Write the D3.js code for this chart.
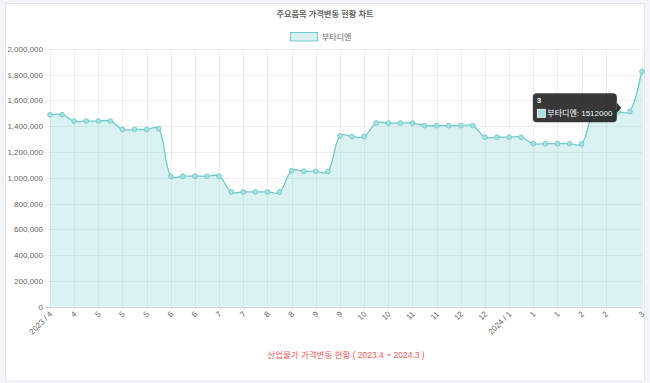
<!DOCTYPE html>
<html><head><meta charset="utf-8">
<script src="https://cdn.jsdelivr.net/npm/d3@7"></script>
<style>
html,body{margin:0;padding:0;background:#f3f5f8;}
svg{display:block;}
text{font-family:"Liberation Sans",Arial,"Noto Sans CJK KR",sans-serif;}
</style></head>
<body>
<svg id="chart" width="650" height="383"></svg>
<script>
const chartTitle = "주요품목 가격변동 현황 차트";
const seriesName = "부타디엔";
const axisTitle = "산업물가 가격변동 현황 ( 2023.4 ~ 2024.3 )";
const labels = ["2023 / 4","4","4","4","5","5","5","5","5","6","6","6","6","7","7","7","7","8","8","8","8","9","9","9","9","10","10","10","10","11","11","11","11","12","12","12","12","12","2024 / 1","1","1","1","1","2","2","2","2","3","3","3"];
const values = [1490000,1490000,1440000,1440000,1440000,1440000,1375000,1375000,1375000,1382000,
  1010000,1012000,1012000,1012000,1012000,890000,890000,890000,890000,888000,
  1055000,1050000,1050000,1048000,1325000,1320000,1320000,1425000,1425000,1425000,
  1425000,1405000,1405000,1405000,1405000,1405000,1315000,1315000,1315000,1315000,
  1265000,1265000,1265000,1265000,1262000,1500000,1510000,1512000,1515000,1825000];
const yTicks = [0,200000,400000,600000,800000,1000000,1200000,1400000,1600000,1800000,2000000];
const tooltipIndex = 47;

const svg = d3.select("#chart");
const L = 50, R = 642, T = 49, B = 306.5;
// panel
svg.append("rect").attr("x",5.5).attr("y",3.5).attr("width",639).attr("height",377.5)
  .attr("fill","#fff").attr("stroke","#e4e8ed");

const x = d3.scalePoint().domain(d3.range(values.length)).range([L,R]);
const y = d3.scaleLinear().domain([0,2000000]).range([B,T]);

// title
svg.append("text").attr("x",325).attr("y",17).attr("text-anchor","middle")
  .attr("font-size","8.2px").attr("font-weight","bold").attr("fill","#666").text(chartTitle);
// legend
svg.append("rect").attr("x",290.5).attr("y",32.5).attr("width",27).attr("height",8.5)
  .attr("fill","#d9f1f1").attr("stroke","#72cccc").attr("stroke-width",1);
svg.append("text").attr("x",322).attr("y",40).attr("font-size","8px").attr("fill","#666").text(seriesName);

// horizontal grid + y labels
const fmt = d3.format(",");
yTicks.forEach(v=>{
  const yy = Math.round(y(v))+0.5;
  svg.append("line").attr("x1",45).attr("x2",R).attr("y1",yy).attr("y2",yy)
    .attr("stroke", v===0 ? "rgba(0,0,0,0.22)" : "rgba(0,0,0,0.08)").attr("stroke-width",0.8);
  svg.append("text").attr("x",43).attr("y",yy).attr("dy","0.35em").attr("text-anchor","end")
    .attr("font-size","8px").attr("fill","#666").text(fmt(v));
});

// x ticks (Chart.js auto-skip: every 2nd, always last)
const skip = 2, N = values.length;
const shown = d3.range(N).filter(i => (i===N-1) || (i%skip===0 && i+skip < N));
shown.forEach(i=>{
  const xx = Math.round(x(i))+0.5;
  svg.append("line").attr("x1",xx).attr("x2",xx).attr("y1",T).attr("y2",B+4)
    .attr("stroke","rgba(0,0,0,0.08)").attr("stroke-width",0.8);
  svg.append("text").attr("transform",`translate(${x(i)+1},${B+6}) rotate(-45)`)
    .attr("text-anchor","end").attr("dy","0.35em").attr("font-size","8px").attr("fill","#666").text(labels[i]);
});

// spline (Chart.js style tension 0.4)
const pts = values.map((v,i)=>({x:x(i), y:y(v)}));
const t = 0.4;
pts.forEach((p,i)=>{
  const prev = pts[Math.max(0,i-1)], next = pts[Math.min(N-1,i+1)];
  const d01 = Math.hypot(p.x-prev.x,p.y-prev.y), d12 = Math.hypot(next.x-p.x,next.y-p.y);
  let s01 = d01/(d01+d12), s12 = d12/(d01+d12);
  if (isNaN(s01)) s01=0; if (isNaN(s12)) s12=0;
  const fa=t*s01, fb=t*s12;
  p.cpPrev = {x:p.x-fa*(next.x-prev.x), y:Math.min(B,Math.max(T,p.y-fa*(next.y-prev.y)))};
  p.cpNext = {x:p.x+fb*(next.x-prev.x), y:Math.min(B,Math.max(T,p.y+fb*(next.y-prev.y)))};
});
let line = `M${pts[0].x},${pts[0].y}`;
for (let i=1;i<N;i++){
  const a=pts[i-1], b=pts[i];
  line += `C${a.cpNext.x},${a.cpNext.y},${b.cpPrev.x},${b.cpPrev.y},${b.x},${b.y}`;
}
const area = line + `L${pts[N-1].x},${B}L${pts[0].x},${B}Z`;
svg.append("path").attr("d",area).attr("fill","rgba(75,192,192,0.2)");
svg.append("path").attr("d",line).attr("fill","none").attr("stroke","#6fcbcb").attr("stroke-width",1.3);
svg.selectAll("circle.pt").data(values).enter().append("circle")
  .attr("cx",(d,i)=>x(i)).attr("cy",d=>y(d)).attr("r",2.4)
  .attr("fill","#a9e1e1").attr("stroke","#6fcbcb").attr("stroke-width",0.9);

// tooltip
const ax = x(tooltipIndex), ay = y(values[tooltipIndex]);
const tw = 84, th = 29, tr = ax - 1, tcy = ay - 4;
const tg = svg.append("g");
tg.append("rect").attr("x",tr-tw).attr("y",tcy-th/2).attr("width",tw).attr("height",th).attr("rx",4)
  .attr("fill","rgba(0,0,0,0.78)");
tg.append("path").attr("d",`M${tr},${tcy-5}L${tr+4.5},${tcy}L${tr},${tcy+5}Z`).attr("fill","rgba(0,0,0,0.78)");
tg.append("text").attr("x",tr-tw+4).attr("y",tcy-4.5).attr("font-size","8px").attr("font-weight","bold")
  .attr("fill","#fff").text(labels[tooltipIndex]);
tg.append("rect").attr("x",tr-tw+4.5).attr("y",tcy+1.5).attr("width",8).attr("height",8)
  .attr("fill","#a9e1e1").attr("stroke","#fff").attr("stroke-width",0.8);
tg.append("text").attr("x",tr-tw+14.5).attr("y",tcy+8.5).attr("font-size","8px").attr("fill","#fff")
  .text(`${seriesName}: ${values[tooltipIndex]}`);

// x axis title
svg.append("text").attr("x",(L+R)/2).attr("y",358).attr("text-anchor","middle")
  .attr("font-size","8.5px").attr("fill","#f25c5c").text(axisTitle);
</script>
</body></html>
